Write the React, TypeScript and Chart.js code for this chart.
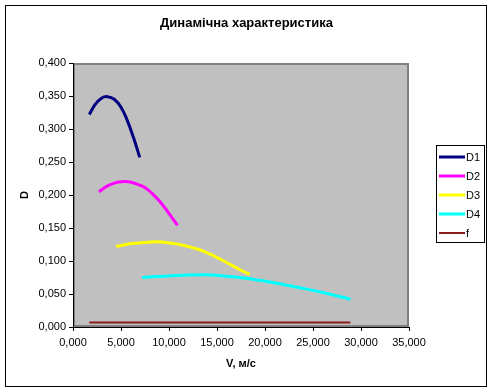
import React, { useEffect, useRef } from "react";
import { Chart, registerables } from "chart.js";

Chart.register(...registerables);

const TITLE = "Динамічна характеристика";
const X_TITLE = "V, м/с";
const Y_TITLE = "D";
const SERIES_NAMES = ["D1", "D2", "D3", "D4", "f"];
const COLORS = ["#000080", "#FF00FF", "#FFFF00", "#00FFFF", "#8B1A1A"];
const WIDTHS = [3, 3, 3, 3, 2];

const X_MIN = 0;
const X_MAX = 35;
const X_STEP = 5;
const Y_MIN = 0;
const Y_MAX = 0.4;
const Y_STEP = 0.05;

const D1_V = [1.7, 2.3, 3.0, 3.6, 4.3, 5.0, 5.6, 6.3, 6.95];
const D1 = [0.322, 0.337, 0.347, 0.349, 0.345, 0.333, 0.315, 0.287, 0.257];

const D2_V = [2.7, 3.5, 4.3, 5.0, 5.8, 6.6, 7.4, 8.2, 9.0, 9.8, 10.9];
const D2 = [0.205, 0.213, 0.218, 0.22, 0.22, 0.217, 0.212, 0.203, 0.191, 0.176, 0.154];

const D3_V = [4.5, 5.9, 7.4, 8.8, 10.3, 11.7, 13.2, 14.6, 16.1, 17.5, 18.4];
const D3 = [0.122, 0.126, 0.128, 0.129, 0.127, 0.123, 0.117, 0.108, 0.097, 0.086, 0.08];

const D4_V = [7.2, 9.4, 11.5, 13.7, 15.9, 18.0, 20.2, 22.4, 24.5, 26.7, 28.9];
const D4 = [0.075, 0.077, 0.0785, 0.079, 0.077, 0.074, 0.069, 0.063, 0.057, 0.05, 0.042];

const F_V = [1.7, 5.0, 10.2, 13.4, 15.9, 19.5, 22.6, 25.6, 28.9];
const F = [0.007, 0.007, 0.007, 0.007, 0.007, 0.007, 0.007, 0.007, 0.007];

const SERIES_V = [D1_V, D2_V, D3_V, D4_V, F_V];
const SERIES_D = [D1, D2, D3, D4, F];

const FONT = '"Liberation Sans", Arial, sans-serif';

const fmt = (v: number) => Number(v).toFixed(3).replace(".", ",");

const framePlugin = {
  id: "frame",
  beforeDraw(chart: any) {
    const { ctx, chartArea: a, width, height } = chart;
    ctx.save();
    ctx.fillStyle = "#ffffff";
    ctx.fillRect(0, 0, width, height);
    ctx.strokeStyle = "#000000";
    ctx.lineWidth = 1;
    ctx.strokeRect(5.5, 5.5, 481, 381);
    ctx.fillStyle = "#c0c0c0";
    ctx.fillRect(a.left, a.top, a.right - a.left, a.bottom - a.top);
    ctx.strokeStyle = "#808080";
    ctx.lineWidth = 2;
    ctx.strokeRect(a.left + 1, a.top + 1, a.right - a.left - 2, a.bottom - a.top - 2);
    ctx.restore();
  },
  afterDraw(chart: any) {
    const { ctx } = chart;
    ctx.save();
    ctx.strokeStyle = "#000000";
    ctx.lineWidth = 1;
    ctx.strokeRect(436.5, 145.5, 48, 97);
    ctx.font = "11px " + FONT;
    ctx.textBaseline = "middle";
    ctx.textAlign = "left";
    chart.data.datasets.forEach((ds: any, i: number) => {
      const y = 157 + i * 19;
      ctx.strokeStyle = ds.borderColor;
      ctx.lineWidth = ds.borderWidth;
      ctx.beginPath();
      ctx.moveTo(439, y);
      ctx.lineTo(465, y);
      ctx.stroke();
      ctx.fillStyle = "#000000";
      ctx.fillText(ds.label, 466, y + 0.5);
    });
    ctx.restore();
  },
};

export default function App() {
  const ref = useRef<HTMLCanvasElement>(null);

  useEffect(() => {
    document.body.style.margin = "0";
    Chart.defaults.font.family = FONT;
    Chart.defaults.color = "#000000";
    const datasets = SERIES_NAMES.map((name, i) => ({
      label: name,
      data: SERIES_V[i].map((v, j) => ({ x: v, y: SERIES_D[i][j] })),
      borderColor: COLORS[i],
      backgroundColor: COLORS[i],
      borderWidth: WIDTHS[i],
      showLine: true,
      pointRadius: 0,
      tension: 0.4,
      fill: false,
      xAxisID: "x",
      yAxisID: "y",
    }));
    const chart = new Chart(ref.current as HTMLCanvasElement, {
      type: "scatter",
      data: { datasets },
      plugins: [framePlugin],
      options: {
        responsive: false,
        animation: false,
        devicePixelRatio: 1,
        layout: { padding: 0 },
        plugins: {
          legend: { display: false },
          tooltip: { enabled: false },
          title: {
            display: true,
            text: TITLE,
            color: "#000000",
            font: { size: 13, weight: "bold", family: FONT },
            padding: { top: 15.2, bottom: 32.2 },
          },
        },
        scales: {
          x: {
            type: "linear",
            position: "bottom",
            min: X_MIN,
            max: X_MAX,
            ticks: {
              stepSize: X_STEP,
              callback: (v: any) => fmt(v),
              color: "#000000",
              font: { size: 11 },
              padding: 5,
              maxRotation: 0,
              autoSkip: false,
            },
            grid: {
              display: true,
              drawOnChartArea: false,
              drawTicks: true,
              tickLength: 4,
              color: "#000000",
              lineWidth: 1,
            },
            border: { display: true, color: "#000000", width: 1 },
            title: {
              display: true,
              text: X_TITLE,
              color: "#000000",
              font: { size: 11, weight: "bold" },
              padding: { top: 0, bottom: 21 },
            },
            afterFit: (s: any) => {
              s.height = 65;
              s.paddingLeft = 0;
              s.paddingRight = 0;
            },
          },
          y: {
            type: "linear",
            position: "left",
            min: Y_MIN,
            max: Y_MAX,
            ticks: {
              stepSize: Y_STEP,
              callback: (v: any) => fmt(v),
              color: "#000000",
              font: { size: 11 },
              padding: 3,
            },
            grid: {
              display: true,
              drawOnChartArea: false,
              drawTicks: true,
              tickLength: 4,
              color: "#000000",
              lineWidth: 1,
            },
            border: { display: true, color: "#000000", width: 1 },
            title: {
              display: true,
              text: Y_TITLE,
              color: "#000000",
              font: { size: 11, weight: "bold" },
              padding: { top: 18.4, bottom: 0 },
            },
            afterFit: (s: any) => {
              s.width = 73;
              s.paddingTop = 0;
              s.paddingBottom = 0;
            },
          },
          yR: {
            type: "linear",
            position: "right",
            display: true,
            ticks: { display: false },
            grid: { display: false },
            border: { display: false },
            afterFit: (s: any) => {
              s.width = 84;
              s.paddingTop = 0;
              s.paddingBottom = 0;
            },
          },
        },
      } as any,
    });
    return () => chart.destroy();
  }, []);

  return (
    <div style={{ width: 493, height: 392 }}>
      <canvas ref={ref} width={493} height={392} style={{ display: "block" }} />
    </div>
  );
}
